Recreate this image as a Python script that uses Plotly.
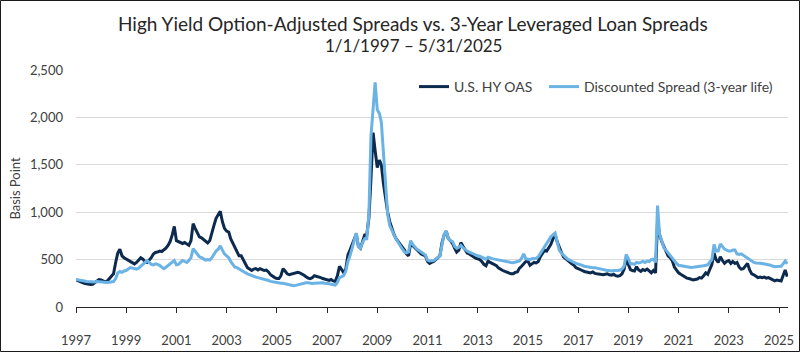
import pandas as pd
import plotly.graph_objects as go

# ---------------- data (monthly, Jan 1997 - May 2025) ----------------
hy_oas = (
    [285, 275, 262, 255, 250, 245, 240, 238, 240, 255, 275, 290] +   # 1997
    [285, 270, 265, 275, 300, 330, 350, 470, 570, 610, 540, 520] +   # 1998
    [505, 490, 480, 460, 455, 470, 500, 520, 505, 480, 470, 490] +   # 1999
    [520, 560, 575, 580, 590, 585, 600, 620, 650, 690, 760, 850] +   # 2000
    [700, 690, 680, 670, 680, 660, 650, 700, 880, 830, 790, 740] +   # 2001
    [730, 710, 690, 675, 700, 770, 860, 935, 970, 1010, 900, 830] +  # 2002
    [800, 790, 720, 675, 620, 570, 540, 540, 500, 450, 415, 400] +   # 2003
    [385, 400, 405, 390, 405, 395, 385, 390, 370, 340, 320, 310] +   # 2004
    [300, 300, 330, 405, 380, 350, 340, 345, 355, 360, 365, 360] +   # 2005
    [350, 335, 320, 305, 300, 310, 330, 325, 320, 310, 300, 295] +   # 2006
    [290, 280, 290, 275, 270, 330, 430, 400, 360, 400, 550, 600] +   # 2007
    [660, 710, 770, 640, 620, 690, 760, 760, 940, 1350, 1840, 1650] +  # 2008
    [1470, 1550, 1500, 1300, 1150, 1000, 900, 820, 765, 720, 690, 650] +  # 2009
    [620, 600, 560, 540, 670, 650, 620, 600, 580, 560, 550, 540] +   # 2010
    [480, 460, 470, 480, 500, 520, 540, 680, 760, 800, 720, 700] +   # 2011
    [670, 620, 580, 600, 680, 640, 600, 570, 560, 540, 530, 515] +   # 2012
    [510, 500, 480, 450, 435, 485, 470, 460, 450, 435, 410, 395] +   # 2013
    [385, 375, 365, 355, 350, 350, 365, 370, 410, 430, 455, 480] +   # 2014
    [485, 440, 455, 470, 465, 480, 530, 560, 600, 590, 620, 660] +   # 2015
    [720, 765, 690, 625, 580, 530, 510, 490, 475, 455, 440, 415] +   # 2016
    [405, 390, 385, 375, 370, 365, 360, 370, 355, 350, 345, 345] +   # 2017
    [340, 345, 350, 340, 335, 345, 330, 325, 330, 350, 400, 505] +   # 2018
    [440, 395, 385, 380, 425, 390, 375, 395, 385, 400, 380, 360] +   # 2019
    [385, 360, 890, 760, 690, 640, 580, 540, 520, 490, 420, 390] +   # 2020
    [360, 345, 330, 320, 305, 300, 290, 285, 290, 295, 310, 305] +   # 2021
    [330, 360, 345, 390, 450, 570, 500, 470, 530, 490, 460, 480] +   # 2022
    [490, 460, 480, 460, 470, 420, 400, 405, 430, 460, 390, 350] +   # 2023
    [340, 320, 310, 315, 310, 315, 305, 310, 300, 290, 275, 285] +   # 2024
    [280, 275, 330, 390, 320]                                         # 2025
)

disc_spread = (
    [290, 288, 285, 280, 275, 270, 268, 265, 262, 265, 268, 265] +   # 1997
    [262, 258, 255, 258, 262, 262, 268, 300, 360, 375, 365, 380] +   # 1998
    [385, 400, 415, 410, 405, 400, 410, 430, 455, 475, 490, 470] +   # 1999
    [450, 445, 455, 450, 440, 420, 405, 420, 440, 460, 480, 490] +   # 2000
    [445, 450, 470, 490, 480, 470, 490, 520, 615, 590, 560, 530] +   # 2001
    [520, 505, 495, 500, 495, 520, 560, 590, 610, 645, 600, 560] +   # 2002
    [540, 520, 480, 450, 420, 415, 400, 385, 375, 362, 350, 340] +   # 2003
    [330, 322, 315, 310, 305, 300, 295, 285, 280, 270, 265, 260] +   # 2004
    [255, 250, 250, 250, 245, 240, 235, 230, 225, 228, 235, 240] +   # 2005
    [245, 250, 255, 255, 250, 248, 250, 252, 255, 258, 255, 250] +   # 2006
    [250, 245, 240, 235, 232, 260, 310, 320, 330, 380, 480, 540] +   # 2007
    [620, 720, 780, 640, 620, 680, 720, 720, 980, 1800, 2150, 2370] +  # 2008
    [2080, 2040, 1950, 1620, 1250, 980, 860, 800, 760, 720, 680, 650] +  # 2009
    [610, 580, 570, 580, 700, 660, 630, 610, 595, 575, 565, 550] +   # 2010
    [495, 485, 485, 490, 505, 520, 540, 660, 770, 800, 720, 700] +   # 2011
    [690, 640, 620, 630, 650, 625, 605, 590, 580, 570, 555, 545] +   # 2012
    [540, 535, 525, 515, 505, 525, 515, 510, 505, 500, 495, 490] +   # 2013
    [485, 480, 478, 472, 470, 468, 472, 478, 485, 515, 560, 510] +   # 2014
    [505, 500, 510, 515, 515, 530, 565, 600, 625, 660, 700, 740] +   # 2015
    [760, 780, 690, 600, 570, 545, 525, 505, 495, 480, 470, 460] +   # 2016
    [455, 445, 440, 430, 425, 420, 420, 415, 415, 410, 400, 395] +   # 2017
    [390, 390, 385, 385, 380, 385, 383, 385, 390, 400, 430, 555] +   # 2018
    [510, 455, 455, 450, 470, 465, 470, 480, 470, 485, 480, 500] +   # 2019
    [505, 470, 1070, 760, 700, 625, 600, 570, 550, 520, 485, 460] +  # 2020
    [440, 435, 430, 425, 420, 420, 418, 420, 422, 425, 430, 428] +   # 2021
    [435, 440, 445, 475, 500, 660, 590, 590, 665, 640, 610, 600] +   # 2022
    [590, 590, 600, 600, 560, 555, 560, 545, 530, 515, 500, 485] +   # 2023
    [470, 465, 460, 462, 458, 455, 450, 445, 440, 432, 425, 428] +   # 2024
    [425, 430, 455, 485, 455]                                         # 2025
)

dates = pd.date_range("1997-01-01", periods=len(hy_oas), freq="MS")
tick_years = list(range(1997, 2026, 2))
tick_vals = [pd.Timestamp(f"{y}-01-01") for y in tick_years]
tick_text = [str(y) for y in tick_years]

title_1 = "High Yield Option-Adjusted Spreads vs. 3-Year Leveraged Loan Spreads"
title_2 = "1/1/1997 \u2013 5/31/2025"

DARK = "#0C2A4E"
LIGHT = "#6AB3E4"
TXT = "#404040"
FONT = "Lato"

fig = go.Figure()
fig.add_trace(go.Scatter(x=dates, y=hy_oas, mode="lines", name="U.S. HY OAS",
                         legendwidth=85,
                         line=dict(color=DARK, width=3)))
fig.add_trace(go.Scatter(x=dates, y=disc_spread, mode="lines",
                         name="Discounted Spread (3-year life)",
                         line=dict(color=LIGHT, width=3)))

L, R, T, B = 76, 12, 70, 45
W, H = 800, 352
pw, ph = W - L - R, H - T - B

def px_x(p):
    return (p - L) / pw

def px_y(p):
    return (H - B - p) / ph

fig.update_layout(
    width=W, height=H,
    margin=dict(l=L, r=R, t=T, b=B, autoexpand=False),
    paper_bgcolor="white", plot_bgcolor="white",
    font=dict(family=FONT, color=TXT, size=13),
    showlegend=True,
    legend=dict(orientation="h", x=px_x(414), y=px_y(87), xanchor="left", yanchor="middle",
                font=dict(size=14, color=TXT, family=FONT), bgcolor="rgba(0,0,0,0)",
                itemwidth=30),
    xaxis=dict(type="date", range=[pd.Timestamp("1997-01-01"), pd.Timestamp("2025-05-12")],
               tickvals=tick_vals, ticktext=tick_text, showgrid=False, automargin=False,
               showline=True, linecolor="#262626", linewidth=1.3,
               ticks="outside", ticklen=5, tickcolor="#262626", tickwidth=1.3,
               tickfont=dict(size=13, color=TXT, family=FONT), ticklabelstandoff=16,
               zeroline=False),
    yaxis=dict(range=[0, 2500], dtick=500, tickformat=",", showgrid=True, automargin=False,
               gridcolor="#D9D9D9", gridwidth=1, zeroline=False, showline=False,
               tickfont=dict(size=13, color=TXT, family=FONT), ticklabelstandoff=12,
               title=dict(text="Basis Point", font=dict(size=13, color=TXT, family=FONT),
                          standoff=6)),
    annotations=[
        dict(text=title_1, x=px_x(413), y=px_y(24), xref="paper", yref="paper",
             showarrow=False, xanchor="center", yanchor="middle",
             font=dict(size=19, color="#262626", family=FONT)),
        dict(text=title_2, x=px_x(413), y=px_y(46), xref="paper", yref="paper",
             showarrow=False, xanchor="center", yanchor="middle",
             font=dict(size=17, color="#262626", family=FONT)),
    ],
    shapes=[dict(type="rect", xref="paper", yref="paper",
                 x0=px_x(0.5), x1=px_x(W - 0.5), y0=px_y(H - 0.5), y1=px_y(0.5),
                 line=dict(color="#1a1a1a", width=1), fillcolor="rgba(0,0,0,0)", layer="above")],
)

fig.write_html("out.html")
